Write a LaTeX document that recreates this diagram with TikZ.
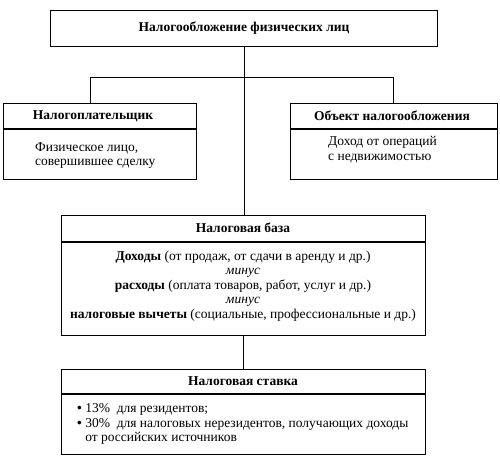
\documentclass[tikz,border=0pt]{standalone}
\usepackage{fontspec}
\setmainfont{Liberation Serif}
\begin{document}
\begin{tikzpicture}[x=1pt,y=-1pt,
  box/.style={draw, line width=1.3pt, inner sep=0pt, anchor=north west},
  conn/.style={line width=0.8pt},
  divider/.style={line width=1.1pt},
  hd/.style={font=\fontsize{13.5}{14.5}\selectfont\bfseries, inner sep=0pt},
  txt/.style={font=\fontsize{13.5}{14.6}\selectfont, inner sep=0pt}]
\useasboundingbox (0,0) rectangle (500,461);
% boxes
\node[box, minimum width=387pt, minimum height=36pt] (top) at (50,10) {};
\node[box, minimum width=193pt, minimum height=76pt] (lbox) at (3,103) {};
\node[box, minimum width=207pt, minimum height=76pt] (rbox) at (290,103) {};
\node[box, minimum width=364pt, minimum height=120pt] (nb) at (61,215) {};
\node[box, minimum width=364pt, minimum height=85pt] (ns) at (61,369) {};
% dividers
\draw[divider] (lbox.west |- 0,129) -- (lbox.east |- 0,129);
\draw[divider] (rbox.west |- 0,129) -- (rbox.east |- 0,129);
\draw[divider] (nb.west |- 0,242) -- (nb.east |- 0,242);
\draw[divider] (ns.west |- 0,394) -- (ns.east |- 0,394);
% texts
\node[hd] (toptxt) at (244,28.5) {Налогообложение физических лиц};
\node[hd] (lhd) at (93,116) {Налогоплательщик};
\node[hd] (rhd) at (392,116) {Объект налогообложения};
\node[txt, anchor=north west, align=left] (ltxt) at (35,142) {Физическое лицо,\\совершившее сделку};
\node[txt, anchor=north west, align=left] (rtxt) at (328,136) {Доход от операций\\с недвижимостью};
\node[hd] (nbhd) at (243,228) {Налоговая база};
\node[txt, align=center, anchor=north] (nbtxt) at (243,250.5) {\textbf{Доходы} (от продаж, от сдачи в аренду и др.)\\\textit{минус}\\\textbf{расходы} (оплата товаров, работ, услуг и др.)\\\textit{минус}\\\textbf{налоговые вычеты} (социальные, профессиональные и др.)};
\node[hd] (nshd) at (243,381) {Налоговая ставка};
\node[txt, anchor=north west, align=left] (nstxt) at (77,403.5) {\textbf{•} 13\%\ \ для резидентов;\\\textbf{•} 30\%\ \ для налоговых нерезидентов, получающих доходы\\\hspace*{0.6em}от российских источников};
% connectors
\coordinate (lj) at (90,77);
\coordinate (rj) at (393,77);
\draw[conn] (top.south) -- (top.south |- nb.north);
\draw[conn] (lbox.north -| lj) -- (lj) -- (rj) -- (rbox.north -| rj);
\draw[conn] (nb.south) -- (ns.north);
\end{tikzpicture}
\end{document}
